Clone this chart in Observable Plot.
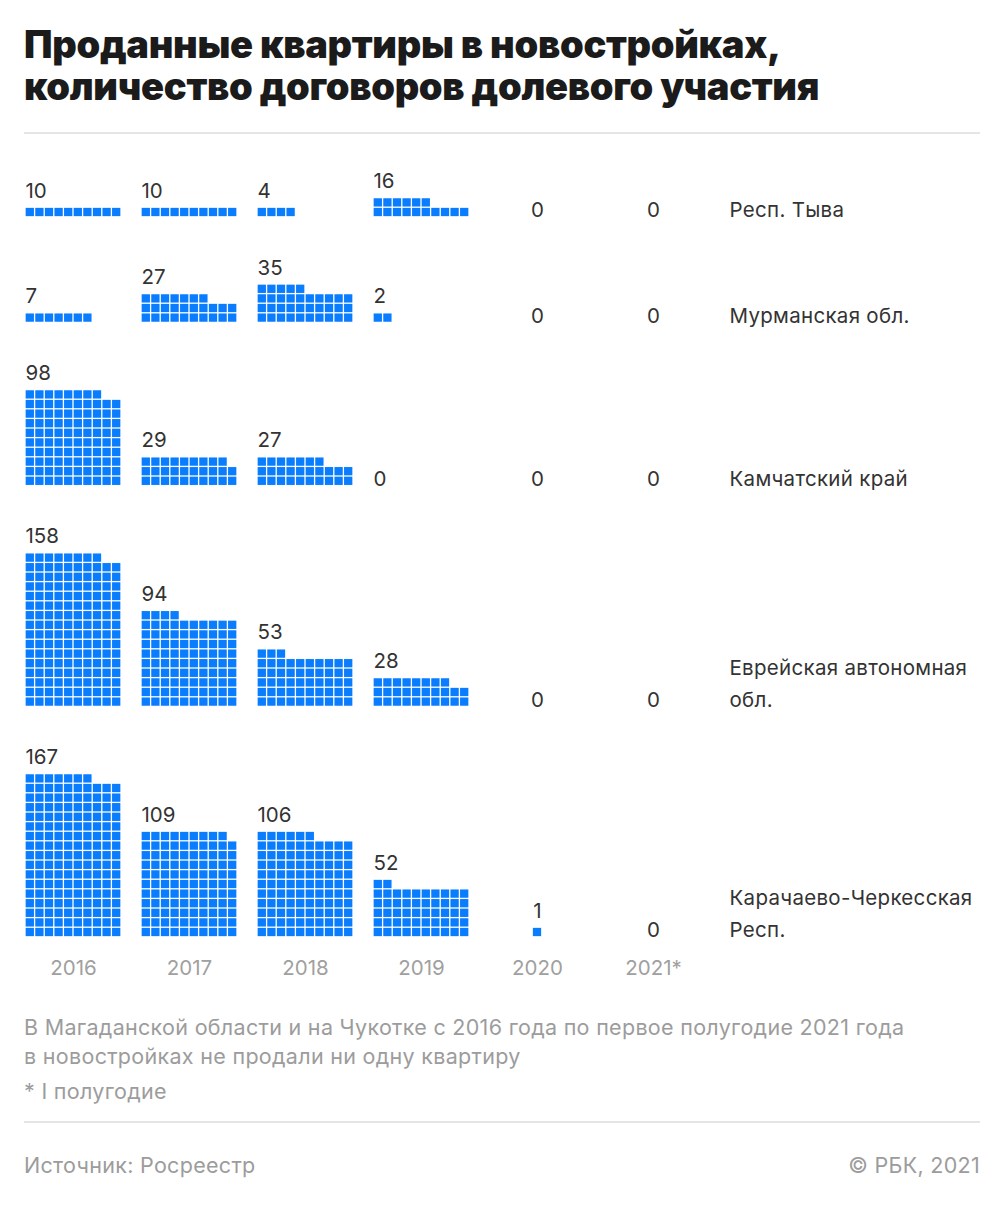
<!DOCTYPE html>
<html><head><meta charset="utf-8">
<script src="https://cdn.jsdelivr.net/npm/d3@7"></script>
<script src="https://cdn.jsdelivr.net/npm/@observablehq/plot@0.6"></script>
<style>
body{margin:0;background:#fff;font-family:Inter,Roboto,"Noto Sans",sans-serif;}
#wrap{position:relative;width:1005px;height:1206px;overflow:hidden;background:#fff}
.title{position:absolute;left:24px;top:23px;font-weight:900;font-size:38px;line-height:42px;color:#1b1b1b;letter-spacing:-0.3px;white-space:nowrap}
.rule{position:absolute;left:24px;width:956px;height:2px;background:#e5e5e5}
.note{position:absolute;left:24px;color:#9c9c9c;font-size:21.5px;line-height:29px;letter-spacing:0.3px;white-space:nowrap}
#chart{position:absolute;left:0;top:140px}
</style></head>
<body><div id="wrap">
<div class="title">Проданные квартиры в новостройках,<br>количество договоров долевого участия</div>
<div class="rule" style="top:132px"></div>
<div id="chart"></div>
<div class="note" style="top:1013px">В Магаданской области и на Чукотке с 2016 года по первое полугодие 2021 года<br>в новостройках не продали ни одну квартиру</div>
<div class="note" style="top:1077px">* I полугодие</div>
<div class="rule" style="top:1121px"></div>
<div class="note" style="top:1151px">Источник: Росреестр</div>
<div class="note" style="top:1151px;left:auto;right:25px">© РБК, 2021</div>
</div>
<script>
// ---- data ----
const years = ["2016", "2017", "2018", "2019", "2020", "2021*"];
const regions = ["Респ. Тыва", "Мурманская обл.", "Камчатский край", "Еврейская автономная\nобл.", "Карачаево-Черкесская\nРесп."];
const tyva = [10, 10, 4, 16, 0, 0];
const murmansk = [7, 27, 35, 2, 0, 0];
const kamchatka = [98, 29, 27, 0, 0, 0];
const jewish = [158, 94, 53, 28, 0, 0];
const kchr = [167, 109, 106, 52, 1, 0];
const series = [tyva, murmansk, kamchatka, jewish, kchr];

// ---- layout ----
const COLS = 10, PX = 9.6, STEP = 116.4, TOP = 6, GAP = 7;
const W = 1005, H = 850, ML = 24;
const FONT = "Inter, Roboto, 'Noto Sans', sans-serif";
const rowsOf = v => Math.ceil(v / COLS);
const centeredCol = years.map((y, j) => d3.max(series, s => s[j]) < COLS);

let B = 0;
const baselines = series.map((s, i) => {
  const r = d3.max(s, rowsOf);
  B = (i === 0 ? TOP : B + GAP) + r;
  return B;
});
const total = B;

const cells = [], labels = [], regionRows = [];
series.forEach((s, i) => {
  const base = baselines[i];
  s.forEach((v, j) => {
    const cen = centeredCol[j];
    const off = cen ? (COLS - Math.min(v, COLS)) / 2 : 0;
    for (let k = 0; k < v; k++) {
      const row = Math.floor(k / COLS), col = k % COLS;
      cells.push({year: years[j], x1: col + off, x2: col + off + 1, y1: base - row - 1, y2: base - row});
    }
    labels.push({year: years[j], x: cen ? COLS / 2 : 0, y: v > 0 ? base - rowsOf(v) : base, above: v > 0, anchor: cen ? "middle" : "start", text: String(v)});
  });
  regionRows.push({year: years[years.length - 1], y: base, text: regions[i]});
});

const p = 1 - (COLS * PX) / STEP;
const MR = W - ML - (years.length - p) * STEP;

const valueText = (anchor, above) => Plot.text(
  labels.filter(d => d.anchor === anchor && d.above === above),
  {fx: "year", x: "x", y: "y", dy: above ? -10 : 0, text: "text", textAnchor: anchor, lineAnchor: "bottom", fontSize: 20.5, fill: "#333"}
);

const chart = Plot.plot({
  width: W, height: H,
  marginTop: 0, marginLeft: ML, marginRight: MR, marginBottom: H - total * PX,
  style: {fontFamily: FONT, fontSize: "20px", background: "transparent", overflow: "visible"},
  fx: {domain: years, paddingInner: p, paddingOuter: 0, label: null},
  x: {domain: [0, COLS], axis: null},
  y: {domain: [0, total], reverse: true, axis: null},
  marks: [
    Plot.axisFx({anchor: "bottom", tickSize: 0, tickPadding: 23, fontSize: 20.5, fill: "#a0a0a0", label: null}),
    Plot.rect(cells, {fx: "year", x1: "x1", x2: "x2", y1: "y1", y2: "y2", fill: "#0a7dff", inset: 0.65}),
    valueText("start", true),
    valueText("start", false),
    valueText("middle", true),
    valueText("middle", false),
    Plot.text(regionRows, {fx: "year", x: COLS, y: "y", dx: 28, text: "text", textAnchor: "start", lineAnchor: "bottom", lineHeight: 1.58, fontSize: 20.5, fill: "#333", style: "letter-spacing:0.3px"})
  ]
});
chart.querySelectorAll("text").forEach(t => { if (t.textContent.length > 6) t.style.letterSpacing = "0.3px"; });
document.getElementById("chart").appendChild(chart);
</script>
</body></html>
